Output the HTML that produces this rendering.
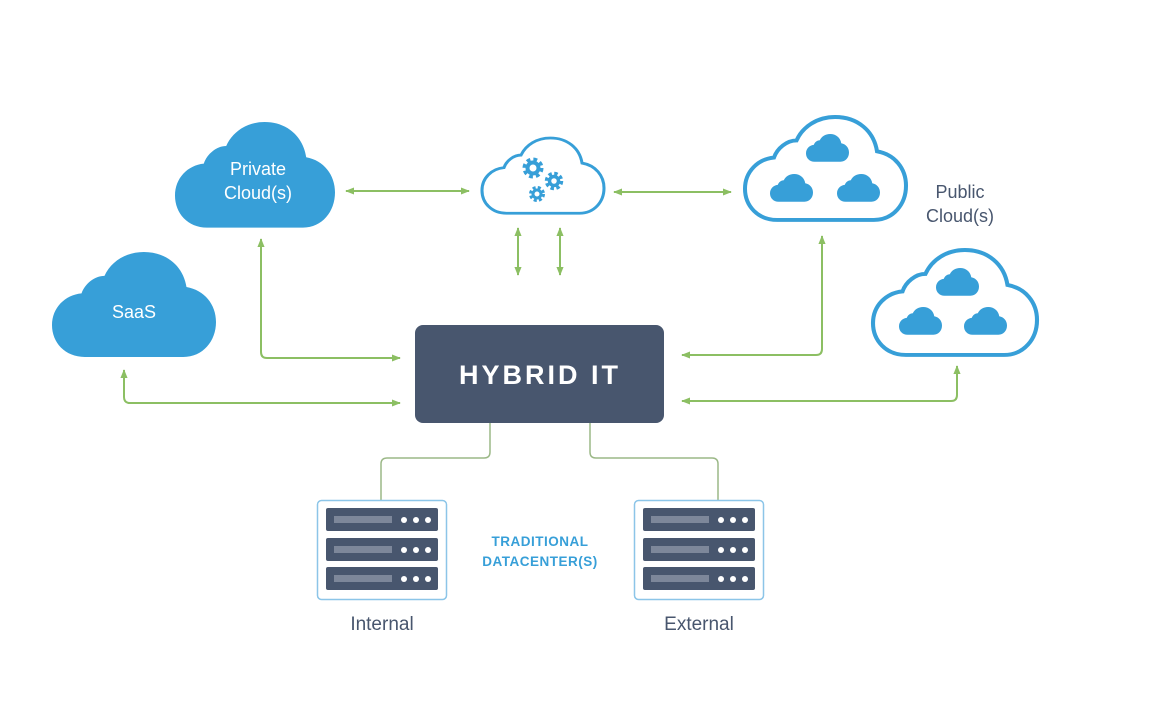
<!DOCTYPE html>
<html><head><meta charset="utf-8"><style>
html,body{margin:0;padding:0;background:#fff;}
svg{display:block;font-family:"Liberation Sans",sans-serif;}
</style></head><body>
<svg width="1162" height="724" viewBox="0 0 1162 724" xmlns="http://www.w3.org/2000/svg">
<defs>
<path id="c" d="M20 66 C8 66 0 57 0 46 C0 35 8 27 18 26 C20 20 26 15 32 15 C36 6 45 0 56 0 C70 0 80 9 82 22 C93 24 100 33 100 44 C100 56 92 66 80 66 Z"/>
<marker id="a" viewBox="0 0 10 10" refX="9" refY="5" markerWidth="9" markerHeight="9" orient="auto-start-reverse" markerUnits="userSpaceOnUse"><path d="M0 1 L10 5 L0 9 Z" fill="#8cbf63"/></marker>
</defs>
<use href="#c" transform="translate(175,122) scale(1.6,1.6)" fill="#379fd8"/>
<use href="#c" transform="translate(52,252) scale(1.64,1.59)" fill="#379fd8"/>
<text x="258" y="175" fill="#fff" font-size="18" text-anchor="middle">Private</text>
<text x="258" y="199" fill="#fff" font-size="18" text-anchor="middle">Cloud(s)</text>
<text x="134" y="318" fill="#fff" font-size="18" text-anchor="middle">SaaS</text>
<use href="#c" transform="translate(482,138) scale(1.22,1.14)" fill="#fff" stroke="#379fd8" stroke-width="2.5" style="vector-effect:non-scaling-stroke"/>
<use href="#c" transform="translate(745,117) scale(1.61,1.56)" fill="#fff" stroke="#379fd8" stroke-width="2.5" style="vector-effect:non-scaling-stroke"/>
<use href="#c" transform="translate(873,250) scale(1.64,1.59)" fill="#fff" stroke="#379fd8" stroke-width="2.5" style="vector-effect:non-scaling-stroke"/>
<g fill="#379fd8">
<use href="#c" transform="translate(806,134) scale(0.43,0.42)"/>
<use href="#c" transform="translate(770,174) scale(0.43,0.42)"/>
<use href="#c" transform="translate(837,174) scale(0.43,0.42)"/>
<use href="#c" transform="translate(936,268) scale(0.43,0.42)"/>
<use href="#c" transform="translate(899,307) scale(0.43,0.42)"/>
<use href="#c" transform="translate(964,307) scale(0.43,0.42)"/>
</g>
<g fill="none" stroke="#379fd8">
<circle cx="533" cy="168" r="8" stroke-width="5" stroke-dasharray="3.5 2.8"/>
<circle cx="533" cy="168" r="5.5" stroke-width="4"/>
<circle cx="554" cy="181" r="7" stroke-width="4.5" stroke-dasharray="3.2 2.3"/>
<circle cx="554" cy="181" r="4.5" stroke-width="3.5"/>
<circle cx="537" cy="194" r="6" stroke-width="4" stroke-dasharray="2.8 2"/>
<circle cx="537" cy="194" r="4" stroke-width="3"/>
</g>
<text x="960" y="198" fill="#48566e" font-size="18" text-anchor="middle">Public</text>
<text x="960" y="222" fill="#48566e" font-size="18" text-anchor="middle">Cloud(s)</text>
<g stroke="#8cbf63" stroke-width="2" fill="none" marker-start="url(#a)" marker-end="url(#a)">
<line x1="346" y1="191" x2="469" y2="191"/>
<line x1="614" y1="192" x2="731" y2="192"/>
<line x1="518" y1="228" x2="518" y2="275"/>
<line x1="560" y1="228" x2="560" y2="275"/>
<path d="M261 239 L261 352 Q261 358 267 358 L400 358"/>
<path d="M124 370 L124 397 Q124 403 130 403 L400 403"/>
<path d="M822 236 L822 349 Q822 355 816 355 L682 355"/>
<path d="M957 366 L957 395 Q957 401 951 401 L682 401"/>
</g>
<g stroke="#9bb887" stroke-width="1.5" fill="none">
<path d="M490 423 L490 452 Q490 458 484 458 L387 458 Q381 458 381 464 L381 500"/>
<path d="M590 423 L590 452 Q590 458 596 458 L712 458 Q718 458 718 464 L718 500"/>
</g>
<rect x="415" y="325" width="249" height="98" rx="8" fill="#48566e"/>
<text x="540" y="384" fill="#fff" font-size="27" font-weight="bold" text-anchor="middle" letter-spacing="3">HYBRID IT</text>
<g>
<rect x="317.5" y="500.5" width="129" height="99" rx="4" fill="#fff" stroke="#8cc5e8" stroke-width="1.5"/>
<rect x="634.5" y="500.5" width="129" height="99" rx="4" fill="#fff" stroke="#8cc5e8" stroke-width="1.5"/>
<g fill="#48566e">
<rect x="326" y="508" width="112" height="23" rx="2"/><rect x="326" y="538" width="112" height="23" rx="2"/><rect x="326" y="567" width="112" height="23" rx="2"/>
<rect x="643" y="508" width="112" height="23" rx="2"/><rect x="643" y="538" width="112" height="23" rx="2"/><rect x="643" y="567" width="112" height="23" rx="2"/>
</g>
<g fill="#7d879a">
<rect x="334" y="516" width="58" height="7"/><rect x="334" y="546" width="58" height="7"/><rect x="334" y="575" width="58" height="7"/>
<rect x="651" y="516" width="58" height="7"/><rect x="651" y="546" width="58" height="7"/><rect x="651" y="575" width="58" height="7"/>
</g>
<g fill="#fff">
<circle cx="404" cy="520" r="3"/><circle cx="416" cy="520" r="3"/><circle cx="428" cy="520" r="3"/>
<circle cx="404" cy="550" r="3"/><circle cx="416" cy="550" r="3"/><circle cx="428" cy="550" r="3"/>
<circle cx="404" cy="579" r="3"/><circle cx="416" cy="579" r="3"/><circle cx="428" cy="579" r="3"/>
<circle cx="721" cy="520" r="3"/><circle cx="733" cy="520" r="3"/><circle cx="745" cy="520" r="3"/>
<circle cx="721" cy="550" r="3"/><circle cx="733" cy="550" r="3"/><circle cx="745" cy="550" r="3"/>
<circle cx="721" cy="579" r="3"/><circle cx="733" cy="579" r="3"/><circle cx="745" cy="579" r="3"/>
</g>
</g>
<text x="540" y="546" fill="#379fd8" font-size="13.5" font-weight="bold" text-anchor="middle" letter-spacing="0.5">TRADITIONAL</text>
<text x="540" y="566" fill="#379fd8" font-size="13.5" font-weight="bold" text-anchor="middle" letter-spacing="0.5">DATACENTER(S)</text>
<text x="382" y="630" fill="#48566e" font-size="19" text-anchor="middle">Internal</text>
<text x="699" y="630" fill="#48566e" font-size="19" text-anchor="middle">External</text>
</svg>
</body></html>
